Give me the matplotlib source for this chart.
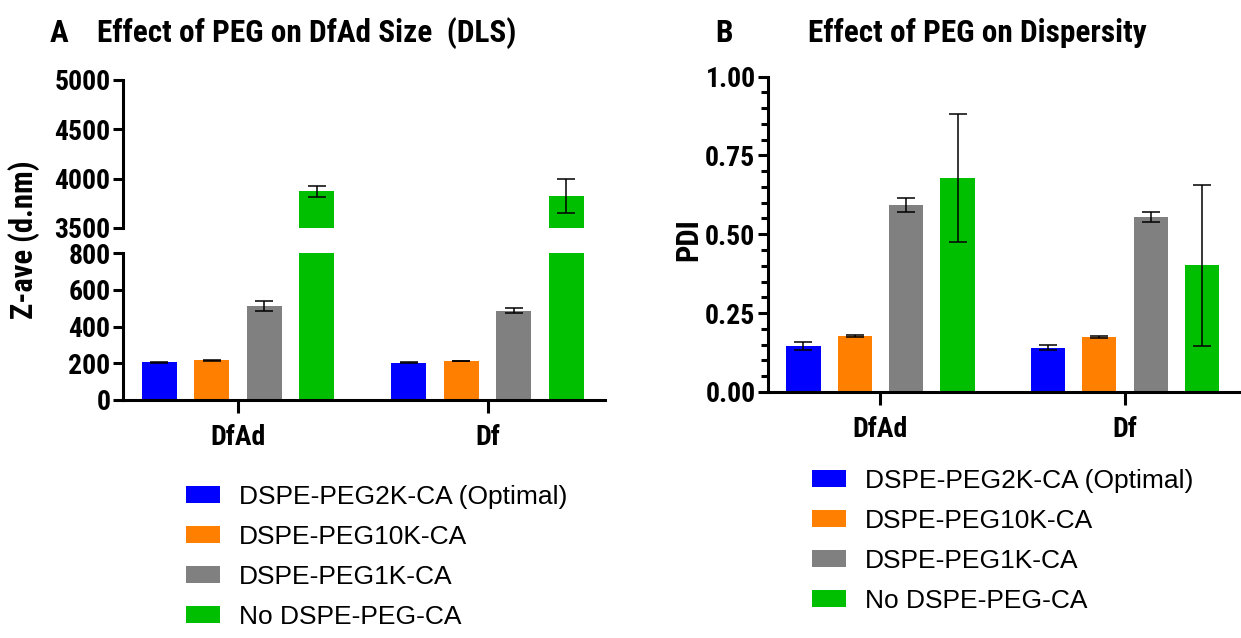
import numpy as np
import matplotlib
matplotlib.use("Agg")
import matplotlib.pyplot as plt
from matplotlib import font_manager
from matplotlib.patches import Patch


groups = ["DfAd", "Df"]
series = ["DSPE-PEG2K-CA (Optimal)", "DSPE-PEG10K-CA", "DSPE-PEG1K-CA", "No DSPE-PEG-CA"]
colors = ["#0000FF", "#FF8000", "#808080", "#00BE00"]

# Z-ave (d.nm), rows = series, cols = groups
zave = [[205, 203], [216, 212], [513, 487], [3870, 3821]]
zave_err = [[3, 2], [3, 2], [28, 15], [56, 172]]

# PDI
pdi = [[0.146, 0.140], [0.178, 0.174], [0.594, 0.555], [0.679, 0.401]]
pdi_err = [[0.012, 0.008], [0.003, 0.003], [0.022, 0.017], [0.202, 0.256]]

names = {f.name for f in font_manager.fontManager.ttflist}
bold_font = "Liberation Sans"
for cand in ["Liberation Sans Narrow", "Roboto Condensed", "Open Sans Condensed"]:
    if cand in names:
        bold_font = cand
        break
reg_font = "Liberation Sans"

W, H = 1241, 638
fig = plt.figure(figsize=(W / 100, H / 100), dpi=100)


def px_axes(x0, y0, x1, y1):
    # pixel box (top-left origin) -> figure axes
    return fig.add_axes([x0 / W, (H - y1) / H, (x1 - x0) / W, (y1 - y0) / H])


pitch = 0.21
width = 0.14
offsets = (np.arange(len(series)) - 1.5) * pitch
x = np.arange(len(groups))
spine_w = 2.2
tick_fs = 20


def draw_bars(ax, vals, errs):
    for i in range(len(series)):
        ax.bar(x + offsets[i], vals[i], width, color=colors[i], zorder=2)
        ax.errorbar(x + offsets[i], vals[i], yerr=errs[i], fmt="none",
                    ecolor="black", elinewidth=1.1, capsize=6.5, capthick=1.1, zorder=3)


def style_axis(ax):
    for s in ["top", "right"]:
        ax.spines[s].set_visible(False)
    for s in ["left", "bottom"]:
        ax.spines[s].set_linewidth(spine_w)
    ax.tick_params(axis="y", width=spine_w, length=7, labelsize=tick_fs, pad=2)
    for lab in ax.get_yticklabels():
        lab.set_fontfamily(bold_font)
        lab.set_fontweight("bold")
    ax.set_xlim(-0.46, 1.47)


# panel A, broken y axis
ax_top = px_axes(123, 80, 605, 228)
ax_bot = px_axes(123, 253, 605, 400)
for ax in (ax_top, ax_bot):
    draw_bars(ax, zave, zave_err)

ax_top.set_ylim(3500, 5000)
ax_top.set_yticks(np.arange(3500, 5001, 500))
ax_top.spines["bottom"].set_visible(False)
ax_top.set_xticks([])
style_axis(ax_top)

ax_bot.set_ylim(0, 800)
ax_bot.set_yticks(np.arange(0, 801, 200))
style_axis(ax_bot)
ax_bot.set_xticks(x)
ax_bot.set_xticklabels(groups, fontsize=tick_fs, fontweight="bold", family=bold_font)
ax_bot.tick_params(axis="x", width=spine_w, length=9, pad=8)

fig.text(24 / W, 1 - 240 / H, "Z-ave (d.nm)", rotation=90, ha="center", va="center",
         fontsize=22, fontweight="bold", family=bold_font)

# panel B
ax_b = px_axes(768, 76.5, 1240, 392)
draw_bars(ax_b, pdi, pdi_err)
ax_b.set_ylim(0, 1.0)
ax_b.set_yticks([0, 0.25, 0.5, 0.75, 1.0])
ax_b.set_yticks(np.arange(0, 1.001, 0.05), minor=True)
ax_b.set_yticklabels(["0.00", "0.25", "0.50", "0.75", "1.00"])
style_axis(ax_b)
ax_b.tick_params(axis="y", which="minor", width=spine_w, length=5)
ax_b.set_xticks(x)
ax_b.set_xticklabels(groups, fontsize=tick_fs, fontweight="bold", family=bold_font)
ax_b.tick_params(axis="x", width=spine_w, length=9, pad=8)

fig.text(688 / W, 1 - 240 / H, "PDI", rotation=90, ha="center", va="center",
         fontsize=22, fontweight="bold", family=bold_font)

# titles
title_kw = dict(fontsize=22.5, fontweight="bold", family=bold_font, va="center")
fig.text(50 / W, 1 - 33 / H, "A", ha="left", **title_kw)
fig.text(97 / W, 1 - 33 / H, "Effect of PEG on DfAd Size  (DLS)", ha="left", **title_kw)
fig.text(715 / W, 1 - 33 / H, "B", ha="left", **title_kw)
fig.text(808 / W, 1 - 33 / H, "Effect of PEG on Dispersity", ha="left", **title_kw)

# legends
handles = [Patch(facecolor=c, edgecolor="none") for c in colors]
leg_kw = dict(loc="upper left", frameon=False, borderpad=0, borderaxespad=0,
              handlelength=1.28, handleheight=0.62, handletextpad=0.72, labelspacing=0.6,
              prop={"family": reg_font, "size": 19})
fig.legend(handles, series, bbox_to_anchor=(186 / W, 1 - 485 / H), **leg_kw)
fig.legend(handles, series, bbox_to_anchor=(812 / W, 1 - 469 / H), **leg_kw)

fig.savefig("out.png", dpi=100)
